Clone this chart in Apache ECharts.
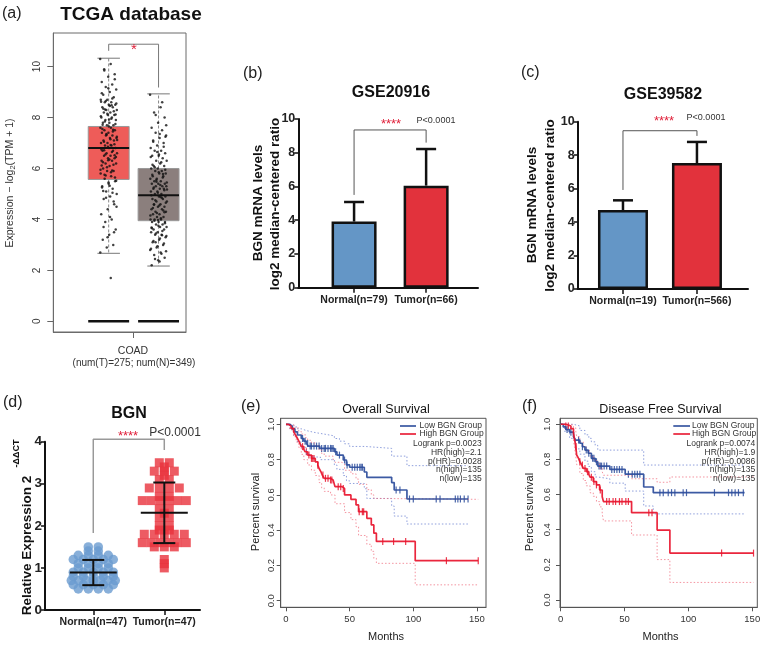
<!DOCTYPE html>
<html><head><meta charset="utf-8">
<script src="https://cdn.jsdelivr.net/npm/echarts@6/dist/echarts.min.js"></script>
<style>html,body{margin:0;padding:0;background:#fff}#c{width:764px;height:645px}</style>
</head><body><div id="c"></div>
<script>
// ================= DATA =================
// (a) TCGA COAD boxplot: [min, q1, median, q3, max]
const tcgaGroups = ['Tumor', 'Normal'];
const tcgaBox = [[2.67, 5.57, 6.8, 7.65, 10.33], [2.17, 3.95, 4.95, 6.0, 8.93]];
const tcgaTicks = [0, 2, 4, 6, 8, 10];
const tcgaTumorDots = [10.3,10.1,9.9,9.7,9.6,9.4,9.3,9.2,9.1,9.0,8.9,8.8,8.7,8.7,8.6,8.6,8.5,8.5,8.4,8.4,8.3,8.3,8.2,8.2,8.1,8.1,8.0,8.0,7.9,7.9,7.8,7.8,7.7,7.7,7.6,7.6,7.5,7.5,7.4,7.4,7.3,7.3,7.2,7.2,7.1,7.1,7.0,7.0,6.9,6.9,6.8,6.8,6.7,6.7,6.6,6.6,6.5,6.5,6.4,6.4,6.3,6.3,6.2,6.2,6.1,6.0,5.9,5.9,5.8,5.7,5.6,5.5,5.4,5.3,5.2,5.1,5.0,4.9,4.8,4.6,4.4,4.2,4.0,3.9,3.6,3.4,3.2,3.0,2.9,2.7,1.7,
  9.85,9.5,9.15,8.95,8.75,8.65,8.55,8.45,8.35,8.25,8.15,8.05,7.95,7.85,7.75,7.65,7.55,7.45,7.35,7.25,7.15,7.05,6.95,6.85,6.75,6.65,6.55,6.45,6.35,6.25,6.15,6.05,5.95,5.85,5.75,5.65,5.45,5.25,5.05,4.85,4.5,4.1,3.7,3.5,3.3,
  8.62,8.48,8.32,8.12,7.92,7.72,7.52,7.32,7.12,6.92,6.72,6.52,6.32,6.12,5.92,5.72,5.52,5.32,5.12,4.7];
const tcgaNormalDots = [8.9,8.4,8.2,8.0,7.8,7.6,7.5,7.4,7.3,7.2,7.1,7.0,6.9,6.8,6.7,6.7,6.6,6.5,6.5,6.4,6.3,6.3,6.2,6.1,6.1,6.0,6.0,5.9,5.9,5.8,5.8,5.7,5.7,5.6,5.6,5.5,5.5,5.4,5.4,5.4,5.3,5.3,5.3,5.2,5.2,5.2,5.1,5.1,5.0,5.0,4.9,4.9,4.8,4.8,4.7,4.7,4.6,4.6,4.5,4.5,4.4,4.4,4.3,4.3,4.2,4.2,4.1,4.1,4.0,4.0,4.0,3.9,3.9,3.9,3.8,3.8,3.7,3.7,3.6,3.6,3.5,3.5,3.4,3.4,3.3,3.2,3.1,3.0,2.9,2.8,2.7,2.6,2.5,2.4,2.2,
  8.6,8.1,7.7,7.35,7.05,6.85,6.65,6.45,6.25,6.05,5.95,5.85,5.75,5.65,5.55,5.45,5.35,5.25,5.15,5.05,4.95,4.85,4.75,4.65,4.55,4.45,4.35,4.25,4.15,4.05,3.95,3.85,3.75,3.65,3.55,3.45,3.35,3.25,3.15,3.05,2.95,2.85,2.65,2.45,
  7.25,6.55,6.15,5.78,5.48,5.18,4.88,4.58,4.28,3.98,3.68,3.38,3.1,2.75,2.35];
const tcgaBracket = [10.62, 10.88, 9.18];

// (b) GSE20916
const gse20916Cats = ['Normal(n=79)', 'Tumor(n=66)'];
const gse20916Mean = [3.92, 6.05];
const gse20916SD = [1.16, 2.17];
const gse20916Bracket = [5.5, 9.35, 8.6];
// (c) GSE39582
const gse39582Cats = ['Normal(n=19)', 'Tumor(n=566)'];
const gse39582Mean = [4.72, 7.53];
const gse39582SD = [0.58, 1.26];
const gse39582Bracket = [5.92, 9.46, 9.15];

// (d) qPCR: rows of [value, count]
const qpcrCats = ['Normal(n=47)', 'Tumor(n=47)'];
const qpcrNormalRows = [[1.5,2],[1.4,2],[1.3,4],[1.2,5],[1.1,4],[1.0,4],[0.9,5],[0.8,5],[0.7,7],[0.6,5],[0.5,4]];
const qpcrTumorRows = [[3.5,2],[3.4,1],[3.3,3],[3.2,1],[3.1,2],[2.9,4],[2.7,2],[2.6,6],[2.4,2],[2.3,1],[2.2,2],[2.0,2],[1.9,2],[1.8,5],[1.6,6],[1.5,3],[1.2,1],[1.1,1],[1.0,1]];
const qpcrMean = [0.89, 2.31];
const qpcrSD = [0.30, 0.72];
const qpcrBracket = [1.83, 4.06, 3.80];

// (e) Overall survival: [month, survival]
const survTicksX = [0, 50, 100, 150];
const survTicksY = [0, 0.2, 0.4, 0.6, 0.8, 1.0];
const osLow = [[0,1],[3,0.99],[5,0.975],[7,0.958],[9,0.94],[12,0.92],[14,0.905],[16,0.892],[17.5,0.877],[26.5,0.864],[38,0.845],[40,0.826],[45,0.798],[47.5,0.77],[50,0.757],[61.5,0.73],[63.5,0.70],[83,0.67],[85,0.628],[95,0.577],[143,0.577]];
const osHigh = [[0,1],[2,0.99],[4,0.977],[6,0.958],[7.5,0.94],[9,0.92],[10.5,0.9],[12,0.874],[14,0.858],[15,0.845],[17,0.826],[20,0.807],[23,0.788],[25,0.769],[26,0.75],[27.5,0.731],[28.5,0.713],[30,0.694],[35,0.685],[37,0.675],[38.5,0.647],[44,0.637],[46,0.6],[51,0.575],[55,0.543],[57,0.505],[63.5,0.467],[67,0.43],[69,0.383],[71,0.336],[101.5,0.227],[151,0.227]];
const osLowUpper = [[0,1],[4,0.99],[8,0.975],[12,0.965],[16,0.955],[22,0.945],[30,0.935],[38,0.92],[42,0.905],[46,0.89],[50,0.875],[62,0.864],[83,0.82],[95,0.766],[143,0.766]];
const osLowLower = [[0,1],[3,0.97],[6,0.935],[9,0.9],[12,0.87],[16,0.83],[20,0.815],[27,0.8],[38,0.77],[40,0.745],[45,0.71],[47.5,0.68],[50,0.665],[61.5,0.635],[63.5,0.58],[83,0.537],[85,0.48],[95,0.435],[143,0.435]];
const osHighUpper = [[0,1],[4,0.995],[7,0.98],[10,0.96],[12,0.945],[15,0.925],[17,0.91],[20,0.895],[23,0.88],[26,0.855],[28,0.835],[30,0.82],[37,0.805],[38.5,0.785],[44,0.775],[46,0.74],[51,0.72],[55,0.69],[57,0.66],[63.5,0.63],[67,0.6],[69,0.58],[71,0.575],[151,0.575]];
const osHighLower = [[0,1],[3,0.97],[6,0.93],[8,0.9],[10,0.87],[12,0.83],[14,0.8],[17,0.77],[20,0.74],[23,0.71],[26,0.67],[28,0.64],[30,0.62],[35,0.6],[38.5,0.55],[46,0.5],[51,0.46],[55,0.42],[57,0.37],[63.5,0.32],[67,0.28],[69,0.24],[71,0.212],[101.5,0.09],[151,0.09]];
const osLowCensor = [13,15,17,19,20,22,24,26,28,30,31,33,35,36,37,39,42,46,48,52,54,56,58,59,60,86.5,89.5,97,100,118,121,133,135,137,140,143];
const osHighCensor = [13,16,18,20,21,22,25,29,31,33,35,36,41,43,45,57.5,60,61,76,84.5,94,126,151];
const osStats = ['Logrank p=0.0023', 'HR(high)=2.1', 'p(HR)=0.0028', 'n(high)=135', 'n(low)=135'];

// (f) Disease free survival
const dfsLow = [[0,1],[2,0.985],[4,0.97],[7,0.955],[10,0.93],[11.5,0.91],[15,0.892],[17,0.872],[19,0.853],[21.5,0.835],[24,0.806],[27,0.787],[29,0.762],[38.5,0.743],[50.5,0.716],[65,0.643],[72.5,0.611],[144,0.611]];
const dfsHigh = [[0,1],[4,0.99],[8,0.975],[10,0.95],[11,0.91],[11.8,0.873],[12.5,0.825],[14,0.806],[15,0.787],[16.5,0.768],[17.7,0.749],[20,0.73],[22,0.715],[23,0.699],[25.5,0.674],[28,0.655],[30.5,0.626],[32.5,0.588],[33.5,0.56],[55.5,0.497],[75.5,0.398],[85.5,0.267],[151,0.267]];
const dfsLowUpper = [[0,1],[5,1],[10,0.99],[15,0.965],[19,0.94],[22,0.92],[24,0.9],[27,0.88],[29,0.853],[65,0.768],[144,0.768]];
const dfsLowLower = [[0,1],[3,0.96],[7,0.92],[11.5,0.86],[15,0.83],[19,0.79],[21.5,0.76],[24,0.73],[27,0.7],[29,0.69],[38.5,0.665],[50.5,0.62],[65,0.535],[72.5,0.49],[144,0.49]];
const dfsHighUpper = [[0,1],[8,0.995],[10,0.98],[11.8,0.96],[12.5,0.93],[15,0.9],[17.7,0.87],[20,0.85],[23,0.82],[25.5,0.8],[28,0.78],[30.5,0.75],[32.5,0.73],[33.5,0.71],[55.5,0.69],[75.5,0.67],[85.5,0.7],[151,0.7]];
const dfsHighLower = [[0,1],[4,0.975],[8,0.95],[10,0.91],[11,0.86],[11.8,0.82],[12.5,0.77],[15,0.72],[17.7,0.68],[20,0.65],[23,0.61],[25.5,0.59],[28,0.56],[30.5,0.53],[32.5,0.49],[33.5,0.45],[55.5,0.37],[75.5,0.23],[85.5,0.1],[151,0.1]];
const dfsLowCensor = [5,8,14,17,20,22,25,26,28,30,31,32,34,36,40,42,44,46,48,53,56,58,60,62,77.7,80.3,84.2,86.8,89.4,95.9,98.5,120.4,131.4,134,136.6,139.2,143];
const dfsHighCensor = [4,6,12,15,17,19,21,24,26,28,31,36,38,41,43,46,48,51,53,69,71.5,126,151];
const dfsStats = ['Logrank p=0.0074', 'HR(high)=1.9', 'p(HR)=0.0086', 'n(high)=135', 'n(low)=135'];

// ================= STYLE / HELPERS =================
const FF = '"Liberation Sans", Arial, Helvetica, sans-serif';
const BLUE_BAR = '#6496c6', RED_BAR = '#e2323c';
const KM_BLUE = '#2b4c9b', KM_RED = '#e8142d';
const chart = echarts.init(document.getElementById('c'), null, {renderer: 'canvas', width: 764, height: 645});

function jitter(vals, pos) {
  return vals.map((v, i) => [pos + (((i * 0.61803398875) % 1) - 0.5) * 0.34, v]);
}
function rowsToPoints(rows, pos, unitPx) {
  const pts = [];
  rows.forEach(([v, n]) => {
    const sp = n > 1 ? Math.min(10, 44 / (n - 1)) : 0;
    for (let k = 0; k < n; k++) pts.push([pos + (k - (n - 1) / 2) * sp / unitPx, v]);
  });
  return pts;
}
function stepAt(curve, t) { let s = curve[0][1]; for (const [tt, v] of curve) { if (tt <= t) s = v; } return s; }

function boxRender(params, api) {
  const i = params.dataIndex;
  const x = api.value(0);
  const mn = api.value(1), q1 = api.value(2), md = api.value(3), q3 = api.value(4), mx = api.value(5);
  const hw = api.size([0.41, 0])[0];
  const capw = hw * 0.55;
  const cx = api.coord([x, md])[0];
  const y = v => api.coord([x, v])[1];
  const fill = i === 0 ? '#ee5c59' : '#8b7f7d';
  return {type: 'group', children: [
    {type: 'line', shape: {x1: cx, y1: y(q3), x2: cx, y2: y(mx)}, style: {stroke: '#888', lineWidth: 1, lineDash: [3, 2]}},
    {type: 'line', shape: {x1: cx, y1: y(q1), x2: cx, y2: y(mn)}, style: {stroke: '#888', lineWidth: 1, lineDash: [3, 2]}},
    {type: 'line', shape: {x1: cx - capw, y1: y(mx), x2: cx + capw, y2: y(mx)}, style: {stroke: '#777', lineWidth: 1}},
    {type: 'line', shape: {x1: cx - capw, y1: y(mn), x2: cx + capw, y2: y(mn)}, style: {stroke: '#777', lineWidth: 1}},
    {type: 'rect', shape: {x: cx - hw, y: y(q3), width: 2 * hw, height: y(q1) - y(q3)}, style: {fill: fill, stroke: '#999', lineWidth: 1}},
    {type: 'line', shape: {x1: cx - hw, y1: y(md), x2: cx + hw, y2: y(md)}, style: {stroke: '#111', lineWidth: 2}},
    {type: 'line', shape: {x1: cx - hw, y1: y(0), x2: cx + hw, y2: y(0)}, style: {stroke: '#111', lineWidth: 2.5}}
  ]};
}
function errRender(params, api) {
  const x = api.value(0), m = api.value(1), sd = api.value(2);
  const p0 = api.coord([x, m]), p1 = api.coord([x, m + sd]);
  return {type: 'group', children: [
    {type: 'line', shape: {x1: p0[0], y1: p0[1], x2: p1[0], y2: p1[1]}, style: {stroke: '#111', lineWidth: 2.5}},
    {type: 'line', shape: {x1: p1[0] - 10, y1: p1[1], x2: p1[0] + 10, y2: p1[1]}, style: {stroke: '#111', lineWidth: 2.5}}
  ]};
}
function meanSdRender(params, api) {
  const x = api.value(0), m = api.value(1), sd = api.value(2);
  const pm = api.coord([x, m]), pt = api.coord([x, m + sd]), pb = api.coord([x, m - sd]);
  return {type: 'group', children: [
    {type: 'line', shape: {x1: pm[0] - 23.5, y1: pm[1], x2: pm[0] + 23.5, y2: pm[1]}, style: {stroke: '#111', lineWidth: 2}},
    {type: 'line', shape: {x1: pt[0], y1: pt[1], x2: pb[0], y2: pb[1]}, style: {stroke: '#111', lineWidth: 2}},
    {type: 'line', shape: {x1: pt[0] - 11, y1: pt[1], x2: pt[0] + 11, y2: pt[1]}, style: {stroke: '#111', lineWidth: 2}},
    {type: 'line', shape: {x1: pb[0] - 11, y1: pb[1], x2: pb[0] + 11, y2: pb[1]}, style: {stroke: '#111', lineWidth: 2}}
  ]};
}
function bracket(gi, b, color, width) {
  return {type: 'line', xAxisIndex: gi, yAxisIndex: gi, data: [[0, b[0]], [0, b[1]], [1, b[1]], [1, b[2]]],
    showSymbol: false, symbol: 'none', clip: false, silent: true, lineStyle: {color: color, width: width}};
}
function km(gi, data, color, dotted) {
  return {type: 'line', xAxisIndex: gi, yAxisIndex: gi, data: data, step: 'end', showSymbol: false, symbol: 'none', silent: true,
    lineStyle: dotted ? {color: color, width: 1, type: [1.5, 2], opacity: 0.75} : {color: color, width: 1.7, opacity: 0.92}};
}
function censor(gi, curve, times, color) {
  return {type: 'scatter', xAxisIndex: gi, yAxisIndex: gi, silent: true, data: times.map(t => [t, stepAt(curve, t)]),
    symbol: 'rect', symbolSize: [1.2, 7], itemStyle: {color: color, opacity: 0.85}};
}
function gpX(i, min, max, cats) {
  return {gridIndex: i, type: 'value', min: min, max: max, splitLine: {show: false},
    axisLine: {show: true, onZero: false, lineStyle: {color: '#111', width: 2}},
    axisTick: {show: true, customValues: [0, 1], length: 5, lineStyle: {color: '#111', width: 1.5}},
    axisLabel: {customValues: [0, 1], formatter: v => cats[Math.round(v)], fontFamily: FF, fontWeight: 'bold', fontSize: 10.5, color: '#222', margin: 7}};
}
function gpY(i, max, interval, fs) {
  return {gridIndex: i, type: 'value', min: 0, max: max, interval: interval, splitLine: {show: false},
    axisLine: {show: true, onZero: false, lineStyle: {color: '#111', width: 2}},
    axisTick: {show: true, length: 4, lineStyle: {color: '#111', width: 1.5}},
    axisLabel: {fontFamily: FF, fontWeight: 'bold', fontSize: fs, color: '#222', margin: 3}};
}
function kmX(i, min, max) {
  return {gridIndex: i, type: 'value', min: min, max: max, splitLine: {show: false},
    axisLine: {show: true, onZero: false, lineStyle: {color: '#555', width: 1}},
    axisTick: {show: true, customValues: survTicksX, length: 4, lineStyle: {color: '#555'}},
    axisLabel: {customValues: survTicksX, fontFamily: FF, fontSize: 9.5, color: '#333', margin: 7}};
}
function kmY(i, min, max, mg) {
  return {gridIndex: i, type: 'value', min: min, max: max, splitLine: {show: false},
    axisLine: {show: true, onZero: false, lineStyle: {color: '#555', width: 1}},
    axisTick: {show: true, customValues: survTicksY, length: 4, lineStyle: {color: '#555'}},
    axisLabel: {customValues: survTicksY, formatter: v => v.toFixed(1), rotate: 90, fontFamily: FF, fontSize: 9.5, color: '#333', margin: mg}};
}
function T(text, x, y, o) {
  o = o || {};
  return {type: 'text', x: x, y: y, rotation: o.rot || 0, silent: true, z: 100,
    style: {text: text, fontFamily: FF, fontSize: o.size || 10, fontWeight: o.bold ? 'bold' : 'normal', fill: o.color || '#222',
      align: o.align || 'center', verticalAlign: 'middle', rich: o.rich}};
}
function L(x1, y1, x2, y2, color) {
  return {type: 'line', silent: true, z: 100, shape: {x1: x1, y1: y1, x2: x2, y2: y2}, style: {stroke: color, lineWidth: 1.6}};
}

// ================= SERIES =================
const series = [];
// (a)
series.push({type: 'custom', xAxisIndex: 0, yAxisIndex: 0, renderItem: boxRender, silent: true,
  data: tcgaBox.map((b, i) => [i - 0.5].concat(b)), encode: {x: 0, y: [1, 2, 3, 4, 5]}});
series.push({type: 'scatter', xAxisIndex: 0, yAxisIndex: 0, silent: true, symbolSize: 2.5, itemStyle: {color: '#111'},
  data: jitter(tcgaTumorDots, -0.5).concat(jitter(tcgaNormalDots, 0.5))});
series.push({type: 'line', xAxisIndex: 0, yAxisIndex: 0, showSymbol: false, symbol: 'none', clip: false, silent: true,
  lineStyle: {color: '#777', width: 1},
  data: [[-0.5, tcgaBracket[0]], [-0.5, tcgaBracket[1]], [0.5, tcgaBracket[1]], [0.5, tcgaBracket[2]]]});
// (b)
series.push({type: 'bar', xAxisIndex: 1, yAxisIndex: 1, barWidth: 45, silent: true,
  itemStyle: {borderColor: '#111', borderWidth: 2.5},
  data: gse20916Mean.map((v, i) => ({value: [i, v], itemStyle: {color: i ? RED_BAR : BLUE_BAR}}))});
series.push({type: 'custom', xAxisIndex: 1, yAxisIndex: 1, renderItem: errRender, silent: true,
  data: gse20916Mean.map((v, i) => [i, v, gse20916SD[i]])});
series.push(bracket(1, gse20916Bracket, '#555', 1));
// (c)
series.push({type: 'bar', xAxisIndex: 2, yAxisIndex: 2, barWidth: 50, silent: true,
  itemStyle: {borderColor: '#111', borderWidth: 2.5},
  data: gse39582Mean.map((v, i) => ({value: [i, v], itemStyle: {color: i ? RED_BAR : BLUE_BAR}}))});
series.push({type: 'custom', xAxisIndex: 2, yAxisIndex: 2, renderItem: errRender, silent: true,
  data: gse39582Mean.map((v, i) => [i, v, gse39582SD[i]])});
series.push(bracket(2, gse39582Bracket, '#555', 1));
// (d)
series.push({type: 'scatter', xAxisIndex: 3, yAxisIndex: 3, silent: true, symbol: 'circle', symbolSize: 9.5,
  itemStyle: {color: '#6a9bd0'}, data: rowsToPoints(qpcrNormalRows, 0, 71)});
series.push({type: 'scatter', xAxisIndex: 3, yAxisIndex: 3, silent: true, symbol: 'rect', symbolSize: 9,
  itemStyle: {color: '#e8323c'}, data: rowsToPoints(qpcrTumorRows, 1, 71)});
series.push({type: 'custom', xAxisIndex: 3, yAxisIndex: 3, renderItem: meanSdRender, silent: true, z: 5,
  data: qpcrMean.map((v, i) => [i, v, qpcrSD[i]])});
series.push(bracket(3, qpcrBracket, '#999', 1.5));
// (e)
[osLowUpper, osLowLower].forEach(d => series.push(km(4, d, '#6a7fd0', true)));
[osHighUpper, osHighLower].forEach(d => series.push(km(4, d, '#f07080', true)));
series.push(km(4, osLow, KM_BLUE, false));
series.push(km(4, osHigh, KM_RED, false));
series.push(censor(4, osLow, osLowCensor, KM_BLUE));
series.push(censor(4, osHigh, osHighCensor, KM_RED));
// (f)
[dfsLowUpper, dfsLowLower].forEach(d => series.push(km(5, d, '#6a7fd0', true)));
[dfsHighUpper, dfsHighLower].forEach(d => series.push(km(5, d, '#f07080', true)));
series.push(km(5, dfsLow, KM_BLUE, false));
series.push(km(5, dfsHigh, KM_RED, false));
series.push(censor(5, dfsLow, dfsLowCensor, KM_BLUE));
series.push(censor(5, dfsHigh, dfsHighCensor, KM_RED));

// ================= TEXT =================
const graphics = [
  T('(a)', 2, 14, {size: 16, align: 'left'}),
  T('TCGA database', 131, 15, {size: 19, bold: true, color: '#111'}),
  T('{n|Expression \u2212 log}{s|2}{n|(TPM + 1)}', 10, 183, {rot: Math.PI / 2, rich: {n: {fontFamily: FF, fontSize: 10.5, fill: '#333', lineHeight: 14}, s: {fontFamily: FF, fontSize: 7.5, fill: '#333', lineHeight: 8, verticalAlign: 'bottom'}}}),
  T('COAD', 133, 351, {size: 10.5, color: '#333'}),
  T('(num(T)=275; num(N)=349)', 134, 363.5, {size: 10, color: '#333'}),
  T('*', 134, 50, {size: 15, color: '#e0203a'}),

  T('(b)', 243, 74, {size: 16, align: 'left'}),
  T('GSE20916', 391, 93, {size: 16, bold: true, color: '#111'}),
  T('BGN mRNA levels', 258, 203, {size: 13.5, bold: true, rot: Math.PI / 2, color: '#111'}),
  T('log2 median-centered ratio', 275.5, 204, {size: 13.5, bold: true, rot: Math.PI / 2, color: '#111'}),
  T('****', 391, 124, {size: 13, color: '#e0203a'}),
  T('P<0.0001', 436, 121, {size: 9, color: '#333'}),

  T('(c)', 521, 73, {size: 16, align: 'left'}),
  T('GSE39582', 663, 95, {size: 16, bold: true, color: '#111'}),
  T('BGN mRNA levels', 532.5, 205, {size: 13.5, bold: true, rot: Math.PI / 2, color: '#111'}),
  T('log2 median-centered ratio', 550, 205.5, {size: 13.5, bold: true, rot: Math.PI / 2, color: '#111'}),
  T('****', 664, 121, {size: 13, color: '#e0203a'}),
  T('P<0.0001', 706, 117.7, {size: 9, color: '#333'}),

  T('(d)', 3, 403, {size: 16, align: 'left'}),
  T('BGN', 129, 414, {size: 16, bold: true, color: '#111'}),
  T('Relative Expression 2', 27, 545.5, {size: 13.5, bold: true, rot: Math.PI / 2, color: '#111'}),
  T('-\u0394\u0394CT', 17, 453.5, {size: 9, bold: true, rot: Math.PI / 2, color: '#111'}),
  T('****', 128, 436, {size: 13, color: '#e0203a'}),
  T('P<0.0001', 175, 432.7, {size: 12, color: '#333'}),

  T('(e)', 241, 407, {size: 16, align: 'left'}),
  T('Overall Survival', 386, 410, {size: 12.5, color: '#111'}),
  T('Percent survival', 256, 512, {size: 11, rot: Math.PI / 2, color: '#222'}),
  T('Months', 386, 637, {size: 11, color: '#222'}),
  L(400, 426, 416, 426, KM_BLUE), L(400, 434, 416, 434, KM_RED),
  T('Low BGN Group', 419.5, 426, {size: 8.5, align: 'left', color: '#333'}),
  T('High BGN Group', 419.5, 434, {size: 8.5, align: 'left', color: '#333'}),

  T('(f)', 522, 407, {size: 16, align: 'left'}),
  T('Disease Free Survival', 660.5, 410, {size: 12.5, color: '#111'}),
  T('Percent survival', 529.5, 512, {size: 11, rot: Math.PI / 2, color: '#222'}),
  T('Months', 660.5, 637, {size: 11, color: '#222'}),
  L(673.3, 426, 690, 426, KM_BLUE), L(673.3, 434, 690, 434, KM_RED),
  T('Low BGN Group', 692, 426, {size: 8.5, align: 'left', color: '#333'}),
  T('High BGN Group', 692, 434, {size: 8.5, align: 'left', color: '#333'})
];
osStats.forEach((s, k) => graphics.push(T(s, 481.7, 444 + k * 8.7, {size: 8.5, align: 'right', color: '#333'})));
dfsStats.forEach((s, k) => graphics.push(T(s, 755.3, 444 + k * 8.7, {size: 8.5, align: 'right', color: '#333'})));

// ================= OPTION =================
chart.setOption({
  animation: false,
  backgroundColor: '#fff',
  textStyle: {fontFamily: FF},
  grid: [
    {left: 53.3, top: 33, width: 132.7, height: 299, show: true, borderColor: '#6b6b6b', borderWidth: 1, backgroundColor: 'transparent'},
    {left: 298.3, top: 119, width: 179.7, height: 168.7},
    {left: 577.7, top: 121.7, width: 170.3, height: 167.3},
    {left: 45, top: 441.7, width: 155, height: 168.3},
    {left: 280.7, top: 418.3, width: 205.3, height: 189, show: true, borderColor: '#555', borderWidth: 1, backgroundColor: 'transparent'},
    {left: 560, top: 418.3, width: 197.3, height: 189, show: true, borderColor: '#555', borderWidth: 1, backgroundColor: 'transparent'}
  ],
  xAxis: [
    {gridIndex: 0, type: 'value', min: -1.61, max: 1.05, splitLine: {show: false},
      axisLine: {show: true, onZero: false, lineStyle: {color: '#6b6b6b', width: 1}},
      axisTick: {show: true, customValues: [0], length: 6, lineStyle: {color: '#666'}}, axisLabel: {show: false}},
    gpX(1, -0.774, 1.72, gse20916Cats),
    gpX(2, -0.612, 1.69, gse39582Cats),
    gpX(3, -0.68, 1.503, qpcrCats),
    kmX(4, -4.16, 157.1),
    kmX(5, -0.55, 153.95)
  ],
  yAxis: [
    {gridIndex: 0, type: 'value', min: -0.42, max: 11.32, splitLine: {show: false},
      axisLine: {show: true, onZero: false, lineStyle: {color: '#6b6b6b', width: 1}},
      axisTick: {show: true, customValues: tcgaTicks, length: 6, lineStyle: {color: '#666'}},
      axisLabel: {customValues: tcgaTicks, rotate: 90, fontFamily: FF, fontSize: 10, color: '#333', margin: 11}},
    gpY(1, 10, 2, 12.5),
    gpY(2, 10, 2, 12.5),
    gpY(3, 4, 1, 13.5),
    kmY(4, -0.0374, 1.0346, 4.5),
    kmY(5, -0.0415, 1.034, 8)
  ],
  series: series,
  graphic: graphics
});
</script>
</body></html>
